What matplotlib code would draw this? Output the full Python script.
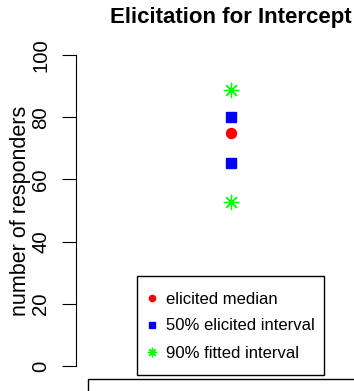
import matplotlib
matplotlib.use("Agg")
import matplotlib.pyplot as plt
from matplotlib.patches import Rectangle

plt.rcParams['font.family'] = ['Liberation Sans', 'DejaVu Sans']

# values
x_pos = [1]
median = [75]
interval50 = [65.2, 80]
interval90 = [52.8, 88.7]
yticks = [0, 20, 40, 60, 80, 100]

W, H = 354, 391
fig = plt.figure(figsize=(W / 100, H / 100), dpi=100)

# axes placed in pixels: 0 -> y=366, 100 -> y=55 (ylim padded 4% like R)
left, right = 76, 386
top, bottom = 42.6, 378.4
ax = fig.add_axes([left / W, 1 - bottom / H, (right - left) / W, (bottom - top) / H])
ax.set_xlim(0, 2)
ax.set_ylim(-4, 104)

ax.plot(x_pos, median, ls='none', marker='o', ms=7.2, color='red', label='elicited median')
ax.plot(x_pos * 2, interval50, ls='none', marker='s', ms=7.9, color='blue',
        label='50% elicited interval')
ax.plot(x_pos * 2, interval90, ls='none', marker=(8, 2, 0), ms=11, mew=0.9,
        color='#00ff00', label='90% fitted interval')

for s in ['top', 'right', 'bottom']:
    ax.spines[s].set_visible(False)
ax.spines['left'].set_bounds(0, 100)
ax.spines['left'].set_linewidth(0.8)
ax.set_xticks([])
ax.set_yticks(yticks)
ax.tick_params(axis='y', length=10, width=0.8, pad=8.6, labelsize=14.7)
for lab in ax.get_yticklabels():
    lab.set_rotation(90)
    lab.set_va('center')
ax.set_ylabel('number of responders', fontsize=15.5, labelpad=0)
ax.set_title('Elicitation for Intercept', fontsize=16, fontweight='bold', pad=14)

# legend box drawn like R's: frame at fixed spot, entries inside
fig.add_artist(Rectangle((137 / W, 1 - 375 / H), (324 - 137) / W, (375 - 276) / H,
                         transform=fig.transFigure, fill=False, lw=1.0,
                         edgecolor='black'))
leg = ax.legend(loc='center left', bbox_to_anchor=(145 / W, 1 - 326 / H),
                bbox_transform=fig.transFigure, borderaxespad=0, borderpad=0,
                fontsize=12, frameon=False, handlelength=0.84,
                handletextpad=0.45, labelspacing=0.72, markerscale=0.62)

# top edge of the next panel showing at the bottom
fig.add_artist(Rectangle((88 / W, -0.2), 1.0, 0.2 + 1 - 379 / H,
                         transform=fig.transFigure, fill=False, lw=1.0,
                         edgecolor='black', clip_on=False))

fig.savefig('out.png', dpi=100)
